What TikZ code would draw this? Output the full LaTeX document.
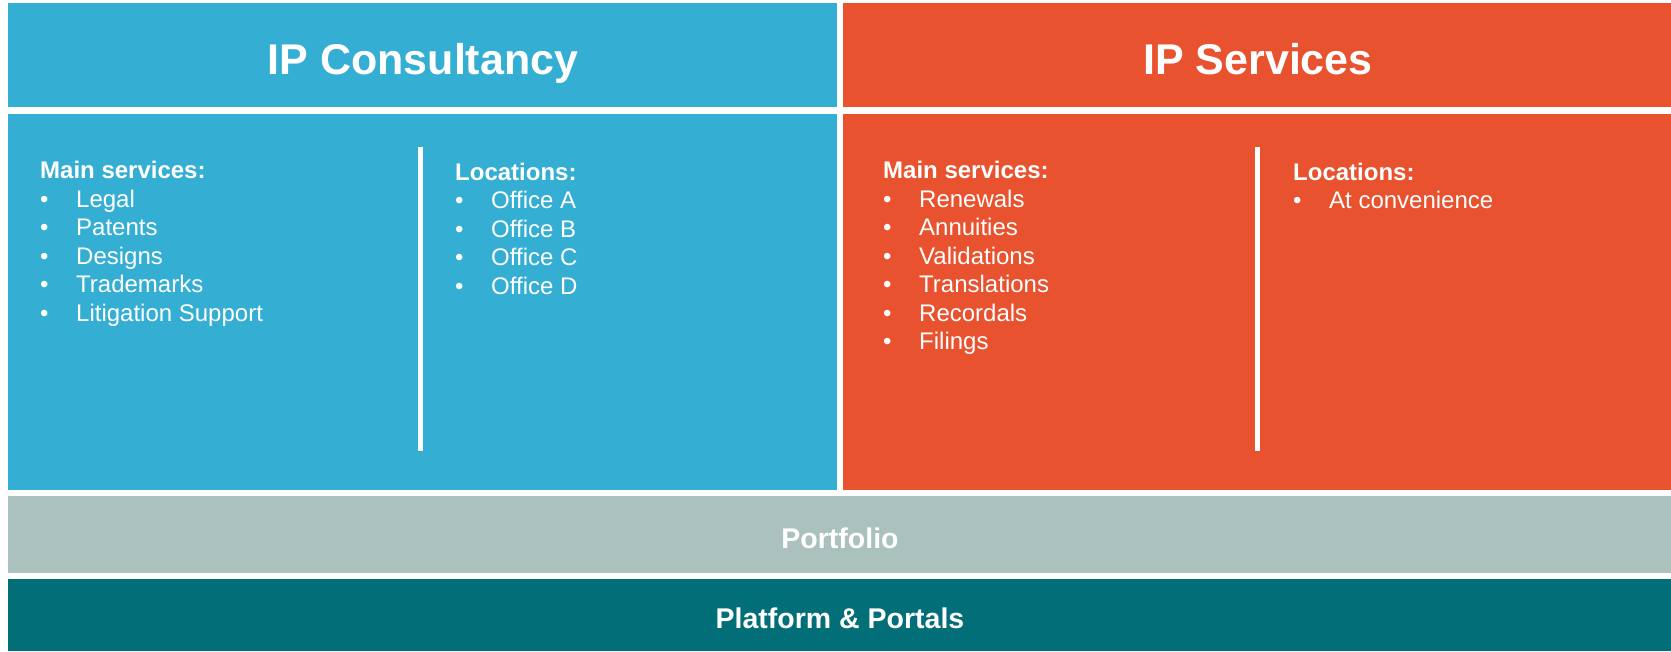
\documentclass[tikz,border=0pt]{standalone}
\usepackage{fontspec}
\setmainfont{Liberation Sans}
\usetikzlibrary{positioning}
\definecolor{consultblue}{HTML}{35AED3}
\definecolor{serviceorange}{HTML}{E9522E}
\definecolor{portfoliogrey}{HTML}{AAC1BE}
\definecolor{platformteal}{HTML}{026E78}
\tikzset{
  panel/.style={fill=#1, draw=none, inner sep=0pt, outer sep=0pt, anchor=north west},
  title/.style={text=white, font=\fontsize{43}{50}\selectfont\bfseries, anchor=base, inner sep=0pt},
  band/.style={text=white, font=\fontsize{28.5}{34}\selectfont\bfseries, anchor=base, inner sep=0pt},
  heading/.style={text=white, font=\fontsize{24}{28.5}\selectfont\bfseries, anchor=base west, inner sep=0pt},
  entry/.style={text=white, font=\fontsize{24}{28.5}\selectfont, anchor=base west, inner sep=0pt},
  divider/.style={white, line width=5pt}
}
\newcommand{\bulletitem}[1]{\makebox[36pt][l]{\textbullet}#1}

\begin{document}
\begin{tikzpicture}[x=1pt,y=-1pt]
  \useasboundingbox (0,0) rectangle (1671,651);

  % upper panels
  \node[panel=consultblue, minimum width=829pt, minimum height=104pt] (conshead) at (8,3) {};
  \node[panel=serviceorange, minimum width=828pt, minimum height=104pt] (servhead) at (843,3) {};
  \node[panel=consultblue, minimum width=829pt, minimum height=376pt] (consbody) at (8,114) {};
  \node[panel=serviceorange, minimum width=828pt, minimum height=376pt] (servbody) at (843,114) {};

  % lower bands
  \node[panel=portfoliogrey, minimum width=1663pt, minimum height=77pt] (portband) at (8,496) {};
  \node[panel=platformteal, minimum width=1663pt, minimum height=72pt] (platband) at (8,579) {};

  \node[title] (constitle) at (423,74) {IP Consultancy};
  \node[title] (servtitle) at (1258,74) {IP Services};
  \node[band] (porttext) at (840,548) {Portfolio};
  \node[band] (plattext) at (840,628) {Platform \& Portals};

  \draw[divider] (420.5,147) -- (420.5,451);
  \draw[divider] (1257.5,147) -- (1257.5,451);

  % IP Consultancy columns
  \node[heading] (consmain) at (40,178.5) {Main services:};
  \foreach \txt [count=\i] in {Legal,Patents,Designs,Trademarks,Litigation Support}
    \node[entry] (consmain\i) at (40,178.5+28.5*\i) {\bulletitem{\txt}};
  \node[heading] (consloc) at (455,180) {Locations:};
  \foreach \txt [count=\i] in {Office A,Office B,Office C,Office D}
    \node[entry] (consloc\i) at (455,180+28.5*\i) {\bulletitem{\txt}};

  % IP Services columns
  \node[heading] (servmain) at (883,178.5) {Main services:};
  \foreach \txt [count=\i] in {Renewals,Annuities,Validations,Translations,Recordals,Filings}
    \node[entry] (servmain\i) at (883,178.5+28.5*\i) {\bulletitem{\txt}};
  \node[heading] (servloc) at (1293,180) {Locations:};
  \node[entry] (servloc1) at (1293,208.5) {\bulletitem{At convenience}};
\end{tikzpicture}
\end{document}
